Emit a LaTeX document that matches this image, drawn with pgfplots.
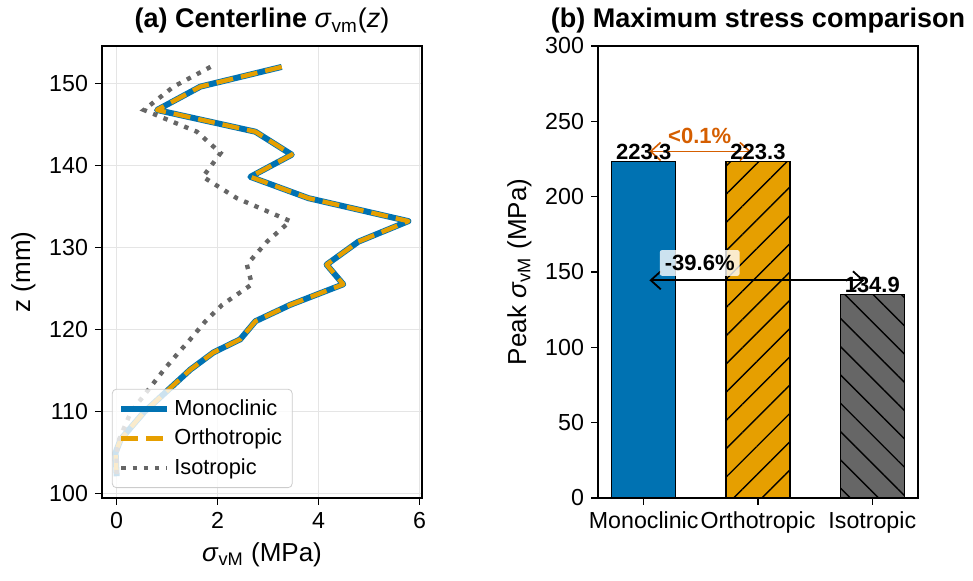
\documentclass[border=0pt]{standalone}
\usepackage{fontspec}
\setmainfont{Liberation Sans}
\usepackage{pgfplots}
\pgfplotsset{compat=1.18}
\usetikzlibrary{patterns.meta,arrows.meta}
\definecolor{mono}{HTML}{0072B2}
\definecolor{ortho}{HTML}{E69F00}
\definecolor{iso}{HTML}{666666}
\definecolor{verm}{HTML}{D55E00}
\newcommand\tk{\fontsize{11.6}{13.5}\selectfont}
\newcommand\lb{\fontsize{13}{15}\selectfont}
\newcommand\ttl{\fontsize{13.5}{16}\selectfont\bfseries}
\pgfplotsset{
  common/.style={
    scale only axis, width=160pt, height=226pt,
    axis line style={line width=0.8pt, black},
    tick align=outside, xtick pos=bottom, ytick pos=left,
    major tick length=3.5pt, every tick/.style={black, line width=0.7pt},
    tick label style={font=\tk},
    /pgf/number format/assume math mode=true,
    label style={font=\lb},
    title style={font=\ttl, at={(0.5,1)}, anchor=base, yshift=3pt},
  }
}
\begin{document}
\begin{tikzpicture}
\useasboundingbox (0,0) rectangle (486.5pt,290.5pt);
% ---------------- (a)
\begin{axis}[common, at={(51pt,41.5pt)}, anchor=south west,
  xmin=-0.29, xmax=6.05, ymin=99.45, ymax=154.55,
  xtick={0,2,4,6}, ytick={100,110,...,150},
  grid=major, major grid style={line width=0.4pt, draw=black!10},
  xlabel={\textit{σ}\textsubscript{vM} (MPa)},
  ylabel={z (mm)},
  title={(a) Centerline {\mdseries\textit{σ}\textsubscript{vm}(\textit{z})}},
  legend style={at={(0.031,0.022)}, anchor=south west, draw=black!20,
    rounded corners=2pt, fill=white, fill opacity=0.8, text opacity=1,
    font=\fontsize{10.9}{12.5}\selectfont, row sep=1.5pt, inner sep=3pt},
  legend cell align=left,
  legend image code/.code={\draw[#1] (0pt,0pt) -- (23pt,0pt);},
]
\addplot[mono, line width=3pt, line join=round] table {
x z
3.27 152.0
1.66 149.6
0.80 146.75
2.75 144.1
3.47 141.3
2.65 138.6
3.80 136.0
5.78 133.2
4.79 130.7
4.16 127.9
4.49 125.5
3.44 123.0
2.75 121.0
2.45 118.8
1.92 117.2
1.46 115.1
1.00 112.5
0.54 109.9
0.08 106.6
-0.02 105.0
0.00 102.1
};
\addlegendentry{Monoclinic}
\addplot[ortho, line width=2.2pt, line join=round, dash pattern=on 8.5pt off 4pt] table {
x z
3.27 152.0
1.66 149.6
0.80 146.75
2.75 144.1
3.47 141.3
2.65 138.6
3.80 136.0
5.78 133.2
4.79 130.7
4.16 127.9
4.49 125.5
3.44 123.0
2.75 121.0
2.45 118.8
1.92 117.2
1.46 115.1
1.00 112.5
0.54 109.9
0.08 106.6
-0.02 105.0
0.00 102.1
};
\addlegendentry{Orthotropic}
\addplot[iso, line width=2.2pt, dash pattern=on 2.2pt off 3.4pt] table {
x z
1.86 152.0
1.13 149.6
0.54 146.75
1.59 144.1
2.06 141.5
1.71 138.6
2.38 136.0
3.44 133.2
2.98 130.7
2.58 127.9
2.68 125.5
2.09 123.0
1.76 121.0
1.46 118.8
1.23 117.2
0.94 115.1
0.61 112.5
0.28 109.9
0.05 106.6
0.00 105.0
0.00 102.1
};
\addlegendentry{Isotropic}
\end{axis}
% ---------------- (b)
\begin{axis}[common, at={(299pt,41.5pt)}, anchor=south west,
  xmin=-0.4, xmax=2.4, ymin=0, ymax=300,
  xtick={0,1,2}, xticklabels={Monoclinic,Orthotropic,Isotropic},
  ytick={0,50,...,300},
  ylabel={Peak \textit{σ}\textsubscript{vM} (MPa)},
  title={(b) Maximum stress comparison},
  nodes near coords, point meta=explicit symbolic,
  every node near coord/.append style={font=\fontsize{11}{13}\selectfont\bfseries, text=black, anchor=south, inner sep=0.5pt},
]
\addplot[ybar, bar width=0.56, bar shift=0pt, fill=mono, draw=black, line width=0.6pt] coordinates {(0,223.3) [223.3]};
\addplot[ybar, bar width=0.56, bar shift=0pt, fill=ortho, draw=black, line width=0.6pt,
  pattern color=black, postaction={pattern={Lines[angle=45,distance=10pt,line width=0.7pt]}, pattern color=black}] coordinates {(1,223.3) [223.3]};
\addplot[ybar, bar width=0.56, bar shift=0pt, fill=iso, draw=black, line width=0.6pt,
  pattern color=black, postaction={pattern={Lines[angle=-45,distance=10pt,line width=0.7pt]}, pattern color=black}] coordinates {(2,134.9) [134.9]};
\draw[verm, line width=0.8pt, {Straight Barb[length=5pt,width=9pt]}-{Straight Barb[length=5pt,width=9pt]}] (axis cs:0.05,230) -- (axis cs:0.94,230);
\node[text=verm, font=\fontsize{11}{13}\selectfont\bfseries] at (axis cs:0.49,240.5) {<0.1\%};
\draw[black, line width=0.9pt, {Straight Barb[length=5pt,width=9pt]}-{Straight Barb[length=5pt,width=9pt]}] (axis cs:0.05,144.5) -- (axis cs:1.93,144.5);
\node[fill=white, fill opacity=0.8, text opacity=1, inner sep=2.5pt, rounded corners=1pt, font=\fontsize{11}{13}\selectfont\bfseries] at (axis cs:0.49,156) {-39.6\%};
\end{axis}
\end{tikzpicture}
\end{document}
